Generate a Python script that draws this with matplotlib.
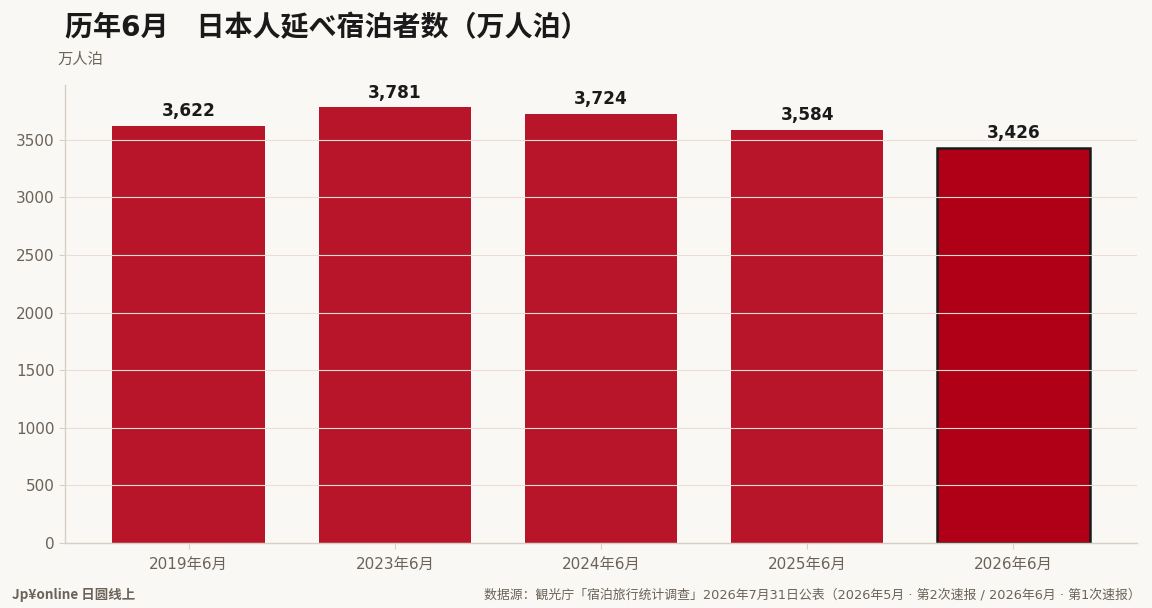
import matplotlib
matplotlib.use("Agg")
import matplotlib.pyplot as plt

plt.rcParams['font.family'] = ['DejaVu Sans', 'Noto Sans CJK SC']

categories = ["2019年6月", "2023年6月", "2024年6月", "2025年6月", "2026年6月"]
values = [3622, 3781, 3724, 3584, 3426]
yticks = [0, 500, 1000, 1500, 2000, 2500, 3000, 3500]

title = "历年6月　日本人延べ宿泊者数（万人泊）"
unit = "万人泊"
brand = "Jp¥online 日圆线上"
source = "数据源：観光庁「宿泊旅行统计调查」2026年7月31日公表（2026年5月 · 第2次速报 / 2026年6月 · 第1次速报）"

bg = "#FAF8F5"
bar_c = "#B8152B"
last_c = "#B00018"
txt_gray = "#6B6358"
spine_c = "#D8CFC4"

fig = plt.figure(figsize=(11.52, 6.08), dpi=100, facecolor=bg)
ax = fig.add_axes([65/1152, 1-543/608, (1137-65)/1152, (543-85)/608])
ax.set_facecolor(bg)

x = list(range(len(categories)))
colors = [bar_c]*(len(values)-1) + [last_c]
bars = ax.bar(x, values, width=0.74, color=colors, zorder=1)
bars[-1].set_edgecolor("#1A1A1A")
bars[-1].set_linewidth(1.8)

for xi, v in zip(x, values):
    ax.text(xi, v + 50, f"{v:,}", ha="center", va="bottom", fontsize=12.2,
            fontweight="bold", color="#1A1A1A", family="DejaVu Sans")

ax.set_xlim(-0.6, len(values) - 0.4)
ax.set_ylim(0, 3975)
ax.set_yticks(yticks)
ax.set_yticklabels([str(t) for t in yticks], family="DejaVu Sans")
ax.set_xticks(x)
ax.set_xticklabels(categories)
ax.tick_params(axis='both', colors=spine_c, labelcolor=txt_gray, labelsize=11, length=4)
ax.tick_params(axis='x', pad=6)
ax.grid(axis='y', color="#E8DED6", linewidth=0.8, zorder=2)
ax.set_axisbelow(False)
for s in ["top", "right"]:
    ax.spines[s].set_visible(False)
for s in ["left", "bottom"]:
    ax.spines[s].set_color(spine_c)
    ax.spines[s].set_linewidth(1.0)

fig.text(65/1152, 1-28/608, title, fontsize=20.2, fontweight="bold", color="#1A1A1A",
         va="center", ha="left")
fig.text(57/1152, 1-59/608, unit, fontsize=11, color=txt_gray, va="center", ha="left",
         family=['Noto Sans CJK SC', 'DejaVu Sans'])
fig.text(12/1152, 1-595/608, brand, fontsize=9.7, fontweight="bold", color=txt_gray,
         va="center", ha="left", family=['Noto Sans CJK SC', 'DejaVu Sans'])
fig.text(1141/1152, 1-595/608, source, fontsize=9.3, color=txt_gray,
         va="center", ha="right")

fig.savefig("out.png", dpi=100, facecolor=bg)
